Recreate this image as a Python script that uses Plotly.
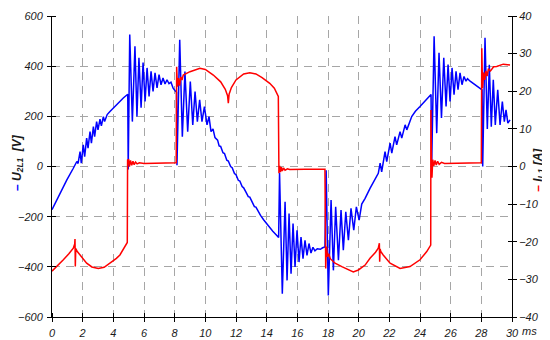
import plotly.graph_objects as go

# ---- data ----
u_t = [0, 0.5, 0.96, 1.39, 1.52, 1.62, 1.7, 1.83, 1.91, 2.04, 2.13, 2.26, 2.35, 2.48, 2.57, 2.7, 2.78,
       2.91, 3.0, 3.13, 3.22, 3.35, 3.43, 3.6, 3.78, 4.0, 4.22, 4.45, 4.65, 4.94, 4.97, 5.07, 5.24,
       5.41, 5.54, 5.67, 5.81, 5.94, 6.07, 6.2, 6.33, 6.46, 6.59, 6.72, 6.85, 6.98, 7.11, 7.24, 7.37,
       7.5, 7.63, 7.76, 7.9, 8.02, 8.12, 8.15, 8.33, 8.5, 8.67, 8.85, 9.02, 9.18, 9.33, 9.48, 9.63,
       9.78, 9.94, 10.11, 10.24, 10.37, 10.5, 10.63, 10.8, 10.9, 11.0, 11.15, 11.25, 11.4, 11.5,
       11.65, 11.75, 11.9, 12.0, 12.15, 12.25, 12.4, 12.5, 12.65, 12.8, 12.9, 13.05, 13.2, 13.3,
       13.45, 13.6, 13.8, 14.0, 14.2, 14.4, 14.6, 14.78, 14.84, 15.02, 15.2, 15.33, 15.46, 15.59,
       15.72, 15.85, 15.98, 16.11, 16.24, 16.37, 16.5, 16.63, 16.76, 16.89, 17.02, 17.15, 17.3,
       17.5, 17.65, 17.8, 17.88, 18.02, 18.2, 18.35, 18.5, 18.68, 18.85, 19.0, 19.16, 19.33, 19.5,
       19.68, 19.85, 20.03, 20.2, 20.42, 20.74, 21.0, 21.28, 21.4, 21.5, 21.72, 21.83, 22.05, 22.16,
       22.37, 22.48, 22.7, 22.81, 23.03, 23.14, 23.46, 23.7, 24.0, 24.3, 24.5, 24.72, 24.76, 24.92,
       25.09, 25.24, 25.4, 25.55, 25.7, 25.83, 25.96, 26.09, 26.22, 26.35, 26.48, 26.61, 26.74,
       26.87, 27.0, 27.1, 27.27, 27.45, 27.6, 27.75, 27.92, 28.05, 28.09, 28.24, 28.39, 28.52,
       28.65, 28.78, 28.91, 29.07, 29.22, 29.37, 29.5, 29.61, 29.73, 29.87]
u_v = [-172, -108, -54, -7, 6, 20, 12, 59, 13, 86, 39, 113, 73, 139, 93, 159, 119,
       179, 146, 189, 162, 199, 179, 207, 219, 233, 246, 261, 273, 288, -12, 526, 179,
       479, 199, 433, 234, 414, 259, 393, 279, 379, 299, 373, 313, 366, 326, 353, 329,
       346, 330, 336, 312, 303, 296, 5, 505, 119, 379, 139, 339, 166, 299, 179, 266,
       179, 239, 166, 199, 139, 150, 115, 105, 82, 80, 55, 52, 25, 22,
       0, -5, -28, -33, -55, -58, -80, -85, -102, -120, -122, -142, -160, -162,
       -180, -195, -212, -228, -244, -258, -271, -283, -25, -507, -141, -454, -187, -427,
       -227, -401, -254, -381, -281, -367, -294, -354, -307, -345, -322, -336, -328,
       -330, -324, -321, -15, -514, -134, -414, -161, -374, -174, -334, -181, -294, -167,
       -254, -161, -214, -150, -127, -87, -55, -27, 13, -21, 59, 19, 93, 53,
       119, 86, 139, 113, 166, 146, 199, 220, 239, 260, 273, 287, 0, 519,
       133, 453, 193, 433, 239, 406, 259, 393, 286, 379, 306, 373, 326,
       359, 340, 350, 340, 332, 325, 320, 313, 305, 0, 513, 150, 406,
       159, 346, 166, 306, 166, 259, 179, 226, 173, 186]

i_t = [0, 0.4, 0.74, 1.1, 1.39, 1.48, 1.5, 1.52, 1.55, 1.65, 1.83, 2.26, 2.6, 3.02, 3.4, 3.78,
       4.2, 4.43, 4.7, 4.91, 4.93, 5.0, 5.05, 5.12, 5.2, 5.28, 5.36, 5.45, 5.55, 5.7, 6.0, 7.0,
       8.0, 8.1, 8.13, 8.18, 8.25, 8.32, 8.4, 8.48, 8.56, 9.0, 9.65, 10.0, 10.52, 11.0, 11.3,
       11.45, 11.5, 11.55, 11.7, 12.0, 12.5, 12.9, 13.3, 13.7, 14.2, 14.5, 14.76, 14.8, 14.85,
       14.9, 14.96, 15.02, 15.1, 15.2, 15.35, 15.5, 16.5, 17.8, 17.85, 17.9, 17.97, 18.05,
       18.15, 18.3, 18.46, 18.9, 19.3, 19.65, 19.98, 20.42, 20.74, 21.1, 21.28, 21.35, 21.37,
       21.4, 21.44, 21.6, 22.05, 22.7, 23.35, 24.0, 24.44, 24.7, 24.71, 24.75, 24.78, 24.83,
       24.9, 24.98, 25.06, 25.15, 25.25, 25.4, 25.6, 26.5, 27.9, 28.0, 28.03, 28.08, 28.15,
       28.22, 28.3, 28.38, 28.46, 28.6, 28.8, 29.0, 29.43, 29.87]
i_a = [-27.8, -26.3, -24.8, -23.2, -21.7, -20.6, -19.3, -26.6, -21.8, -22.6, -23.5, -25.7, -26.7,
       -27.1, -26.8, -25.7, -24.4, -23.5, -21.7, -20.2, 1.7, 1.8, 0.0, 1.6, 0.3, 1.4, 0.5, 1.2,
       0.7, 1.0, 0.8, 0.85, 0.85, 1.0, 26.5, 21.2, 23.5, 21.5, 23.8, 23.0, 24.3, 25.2, 26.1,
       25.8, 24.3, 22.5, 20.5, 18.8, 16.8, 19.2, 21.0, 23.0, 24.6, 24.9, 24.6, 23.6, 22.1, 20.8,
       18.6, -1.8, 0.2, -1.5, -0.2, -1.2, -0.4, -1.0, -0.6, -0.8, -0.75, -0.75, -27.1, -21.3,
       -24.0, -23.2, -24.5, -25.0, -25.7, -26.6, -27.4, -28.0, -27.5, -26.2, -24.4, -22.8,
       -21.7, -20.4, -25.3, -21.9, -22.6, -23.5, -25.7, -27.1, -26.6, -24.8, -22.6, -20.9,
       15.0, 1.0, -3.0, 1.8, 0.2, 1.6, 0.4, 1.4, 0.6, 1.1, 0.8, 0.85, 0.9, 1.0, 31.4, 20.8,
       25.0, 23.0, 25.4, 24.0, 26.0, 25.4, 26.5, 26.6, 27.2, 27.0]

x_ticks = list(range(0, 31, 2))
u_ticks = [-600, -400, -200, 0, 200, 400, 600]
i_ticks = [-40, -30, -20, -10, 0, 10, 20, 30, 40]

# ---- figure ----
tickfont = dict(family="Liberation Sans, Arial, sans-serif", size=11, color="#1a1a1a", style="italic")
grid = dict(showgrid=True, gridcolor="#a6a6a6", gridwidth=1, griddash="8px,6px")

fig = go.Figure()
fig.add_trace(go.Scatter(x=u_t, y=u_v, mode="lines", line=dict(color="#0000ff", width=1.5),
                         yaxis="y", showlegend=False))
fig.add_trace(go.Scatter(x=i_t, y=i_a, mode="lines", line=dict(color="#ff0000", width=1.5),
                         yaxis="y2", showlegend=False))

# the page body has an 8px margin, so the figure is 8px smaller and the margins shifted
fig.update_layout(
    width=542, height=332,
    margin=dict(l=44, r=38, t=8, b=23, autoexpand=False),
    paper_bgcolor="white", plot_bgcolor="white",
    xaxis=dict(range=[0, 30], tickmode="array", tickvals=x_ticks, ticks="outside", ticklen=4,
               tickcolor="black", showline=True, linecolor="black", linewidth=1, zeroline=False,
               tickfont=tickfont, automargin=False, ticklabelstandoff=2, **grid,
               minor=dict(ticks="inside", tick0=0.0001, dtick=2, ticklen=4, tickcolor="black",
                          showgrid=False)),
    yaxis=dict(range=[-600, 600], tickmode="array", tickvals=u_ticks, ticks="outside", ticklen=4,
               tickcolor="black", showline=True, linecolor="black", linewidth=1, zeroline=False,
               tickfont=tickfont, automargin=False, ticklabelstandoff=2, **grid,
               minor=dict(ticks="inside", tick0=0.001, dtick=200, ticklen=4, tickcolor="black",
                          showgrid=False)),
    yaxis2=dict(range=[-40, 40], tickmode="array", tickvals=i_ticks, overlaying="y", side="right",
                ticks="outside", ticklen=4, tickcolor="black", showline=True, linecolor="black",
                linewidth=1, zeroline=False, showgrid=False, tickfont=tickfont, automargin=False,
                minor=dict(ticks="inside", tick0=0.0001, dtick=10, ticklen=4, tickcolor="black",
                           showgrid=False)),
    annotations=[
        dict(xref="paper", yref="paper", x=-0.074, y=0.515, textangle=-90, showarrow=False,
             xanchor="center", yanchor="middle",
             text="<span style='color:#0000ff'><b>–</b></span> <b><i>U<sub>2L1</sub>\u00a0\u00a0[V]</i></b>",
             font=dict(family="Liberation Sans, Arial, sans-serif", size=12, color="#1a1a1a")),
        dict(xref="paper", yref="paper", x=1.058, y=0.488, textangle=-90, showarrow=False,
             xanchor="center", yanchor="middle",
             text="<span style='color:#ff0000'><b>–</b></span> <b><i>I<sub>L1</sub>\u00a0[A]</i></b>",
             font=dict(family="Liberation Sans, Arial, sans-serif", size=12, color="#1a1a1a")),
        dict(xref="paper", yref="paper", x=1.037, y=-0.045, showarrow=False,
             xanchor="center", yanchor="middle", text="<i>ms</i>",
             font=dict(family="Liberation Sans, Arial, sans-serif", size=11, color="#1a1a1a")),
    ],
)

fig.write_html("out.html")
